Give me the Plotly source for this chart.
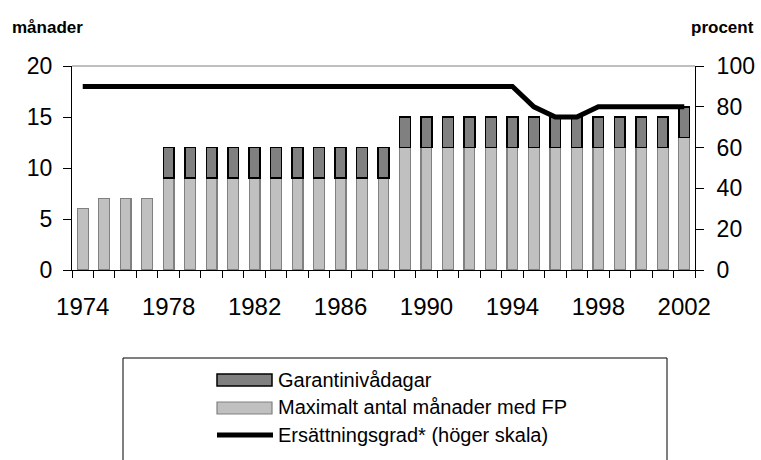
import plotly.graph_objects as go

years = list(range(1974, 2003))
max_manader = [6, 7, 7, 7] + [9] * 11 + [12] * 13 + [13]
garanti = [None, None, None, None] + [3] * 11 + [3] * 13 + [3]
ersattning = [90] * 21 + [80, 75, 75, 80, 80, 80, 80, 80]
x_labels = [1974, 1978, 1982, 1986, 1990, 1994, 1998, 2002]

FONT = "Arial, Liberation Sans, sans-serif"
W, H = 761, 460
L, R, T, B = 72, 695, 66, 270


def px(xp):
    return (xp - L) / (R - L)


def py(yp):
    return (B - yp) / (B - T)


fig = go.Figure()
fig.add_trace(go.Bar(
    x=years, y=max_manader, name="Maximalt antal månader med FP",
    marker=dict(color="#C0C0C0", line=dict(color="#808080", width=1.2)),
    width=0.5, showlegend=False,
))
fig.add_trace(go.Bar(
    x=years, y=garanti, name="Garantinivådagar",
    marker=dict(color="#808080", line=dict(color="#000000", width=1.5)),
    width=0.5, showlegend=False,
))
fig.add_trace(go.Scatter(
    x=years, y=ersattning, name="Ersättningsgrad* (höger skala)",
    mode="lines", line=dict(color="#000000", width=5),
    yaxis="y2", showlegend=False,
))

shapes = [
    dict(type="line", xref="paper", yref="paper", x0=0, x1=1, y0=1, y1=1,
         line=dict(color="#808080", width=1)),
    # legend box
    dict(type="rect", xref="paper", yref="paper", x0=px(123), x1=px(667),
         y0=py(475), y1=py(358), line=dict(color="#000000", width=1),
         fillcolor="rgba(0,0,0,0)"),
    dict(type="rect", xref="paper", yref="paper", x0=px(217), x1=px(272),
         y0=py(386), y1=py(374), line=dict(color="#000000", width=1.5),
         fillcolor="#808080"),
    dict(type="rect", xref="paper", yref="paper", x0=px(217), x1=px(272),
         y0=py(414), y1=py(402), line=dict(color="#808080", width=1.2),
         fillcolor="#C0C0C0"),
    dict(type="line", xref="paper", yref="paper", x0=px(217), x1=px(273),
         y0=py(435), y1=py(435), line=dict(color="#000000", width=5)),
]

annotations = [
    dict(text="<b>månader</b>", xref="paper", yref="paper", x=px(10), y=py(27),
         xanchor="left", yanchor="middle", showarrow=False,
         font=dict(family=FONT, size=17, color="#000")),
    dict(text="<b>procent</b>", xref="paper", yref="paper", x=px(756), y=py(27),
         xanchor="right", yanchor="middle", showarrow=False,
         font=dict(family=FONT, size=17, color="#000")),
]
for txt, yc in [("Garantinivådagar", 380), ("Maximalt antal månader med FP", 407),
                ("Ersättningsgrad* (höger skala)", 435)]:
    annotations.append(dict(text=txt, xref="paper", yref="paper", x=px(276), y=py(yc),
                            xanchor="left", yanchor="middle", showarrow=False,
                            font=dict(family=FONT, size=20, color="#000")))

fig.update_layout(
    width=W, height=H,
    margin=dict(l=L, r=W - R, t=T, b=H - B, autoexpand=False),
    paper_bgcolor="white", plot_bgcolor="white",
    barmode="stack", bargap=0.5,
    font=dict(family=FONT, size=23, color="#000"),
    xaxis=dict(
        range=[1973.5, 2002.5], tickvals=x_labels, ticktext=[str(v) for v in x_labels],
        ticks="", showgrid=False, zeroline=False, showline=True, automargin=False,
        linecolor="#000", linewidth=1, ticklabelstandoff=15,
        tickfont=dict(family=FONT, size=24, color="#000"),
        minor=dict(tick0=1973.5, dtick=1, ticks="outside", ticklen=7,
                   tickcolor="#000", tickwidth=1, showgrid=False),
    ),
    yaxis=dict(
        range=[0, 20], dtick=5, ticks="outside", ticklen=8, tickcolor="#000",
        showgrid=False, zeroline=False, showline=True, linecolor="#000",
        linewidth=1, ticklabelstandoff=6, automargin=False,
    ),
    yaxis2=dict(
        range=[0, 100], dtick=20, overlaying="y", side="right", ticks="outside",
        ticklen=8, tickcolor="#000", showgrid=False, zeroline=False, automargin=False,
        showline=True, linecolor="#000", linewidth=1, ticklabelstandoff=8,
    ),
    shapes=shapes, annotations=annotations,
)

fig.write_html(
    "out.html",
    config={"displayModeBar": False},
    post_script="document.body.style.margin='0';document.body.style.overflow='hidden';",
)
